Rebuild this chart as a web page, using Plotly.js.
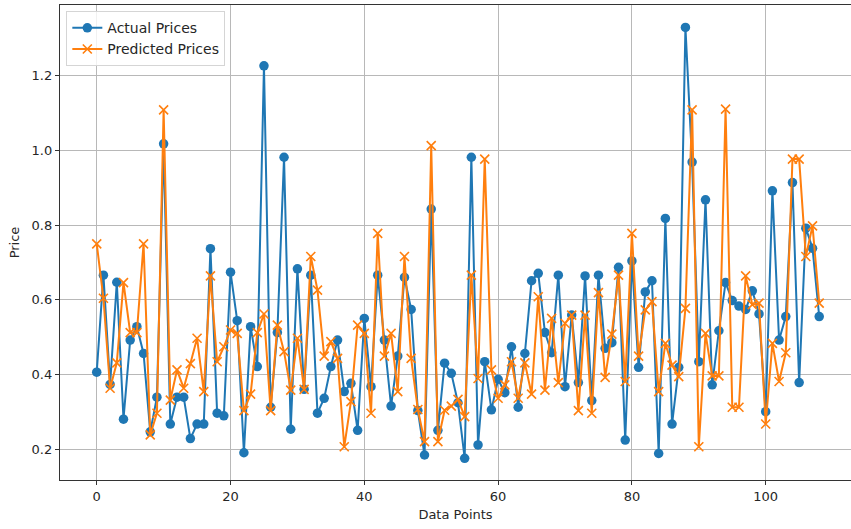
<!DOCTYPE html>
<html>
<head>
<meta charset="utf-8">
<script src="https://cdn.plot.ly/plotly-3.0.1.min.js"></script>
<style>html,body{margin:0;padding:0;background:#fff;}#chart{width:851px;height:529px;}</style>
</head>
<body>
<div id="chart"></div>
<script>
const actualPrices = [
  0.406, 0.666, 0.373, 0.647, 0.280, 0.492, 0.528, 0.456, 0.246, 0.339,
  1.018, 0.267, 0.339, 0.339, 0.228, 0.267, 0.267, 0.737, 0.296, 0.289,
  0.674, 0.544, 0.190, 0.528, 0.421, 1.227, 0.312, 0.512, 0.982, 0.253,
  0.683, 0.360, 0.666, 0.296, 0.336, 0.421, 0.492, 0.354, 0.376, 0.250,
  0.550, 0.367, 0.666, 0.492, 0.315, 0.449, 0.660, 0.574, 0.303, 0.184,
  0.843, 0.250, 0.430, 0.403, 0.324, 0.175, 0.982, 0.211, 0.434, 0.305,
  0.387, 0.351, 0.474, 0.312, 0.456, 0.651, 0.671, 0.512, 0.458, 0.666,
  0.367, 0.559, 0.378, 0.664, 0.330, 0.666, 0.470, 0.485, 0.687, 0.224,
  0.704, 0.419, 0.621, 0.651, 0.188, 0.818, 0.267, 0.419, 1.330, 0.969,
  0.434, 0.868, 0.372, 0.517, 0.646, 0.598, 0.583, 0.574, 0.624, 0.562,
  0.300, 0.892, 0.492, 0.555, 0.914, 0.378, 0.792, 0.738, 0.555
];
const predictedPrices = [
  0.750, 0.604, 0.363, 0.431, 0.646, 0.512, 0.512, 0.750, 0.238, 0.296,
  1.109, 0.331, 0.412, 0.363, 0.429, 0.497, 0.354, 0.664, 0.434, 0.474,
  0.519, 0.510, 0.303, 0.347, 0.512, 0.562, 0.303, 0.532, 0.461, 0.358,
  0.497, 0.360, 0.716, 0.626, 0.449, 0.488, 0.443, 0.206, 0.327, 0.532,
  0.510, 0.296, 0.778, 0.449, 0.510, 0.354, 0.716, 0.443, 0.306, 0.220,
  1.013, 0.220, 0.304, 0.315, 0.333, 0.287, 0.666, 0.389, 0.977, 0.412,
  0.336, 0.372, 0.434, 0.336, 0.431, 0.347, 0.608, 0.358, 0.550, 0.378,
  0.537, 0.559, 0.303, 0.559, 0.296, 0.619, 0.392, 0.508, 0.666, 0.381,
  0.778, 0.449, 0.573, 0.595, 0.354, 0.483, 0.425, 0.394, 0.577, 1.109,
  0.206, 0.510, 0.396, 0.396, 1.111, 0.312, 0.312, 0.664, 0.587, 0.591,
  0.267, 0.483, 0.381, 0.458, 0.977, 0.977, 0.716, 0.798, 0.591
];
const dataPoints = actualPrices.map((_, i) => i);
const xTicks = [0, 20, 40, 60, 80, 100];
const yTicks = [0.2, 0.4, 0.6, 0.8, 1.0, 1.2];
const seriesNames = ['Actual Prices', 'Predicted Prices'];

const font = {family: 'DejaVu Sans, sans-serif', size: 13, color: '#262626'};

const traces = [
  {
    x: dataPoints, y: actualPrices, name: seriesNames[0], type: 'scatter', mode: 'lines+markers',
    line: {color: '#1f77b4', width: 2},
    marker: {symbol: 'circle', size: 9.5, color: '#1f77b4'}
  },
  {
    x: dataPoints, y: predictedPrices, name: seriesNames[1], type: 'scatter', mode: 'lines+markers',
    line: {color: '#ff7f0e', width: 2},
    marker: {symbol: 'x-thin', size: 9, color: '#ff7f0e', line: {color: '#ff7f0e', width: 1.6}}
  }
];

const layout = {
  width: 851, height: 529,
  margin: {l: 60, r: 0, t: 5, b: 49},
  paper_bgcolor: '#fff', plot_bgcolor: '#fff',
  font: font,
  showlegend: true,
  legend: {
    x: 0.008, y: 0.987, xanchor: 'left', yanchor: 'top',
    bgcolor: 'rgba(255,255,255,0.8)', bordercolor: '#d5d5d5', borderwidth: 1,
    font: {family: 'DejaVu Sans, sans-serif', size: 14, color: '#262626'},
    itemwidth: 30,
    tracegroupgap: 0
  },
  xaxis: {
    range: [-5.49, 112.75],
    tickvals: xTicks, ticktext: xTicks.map(String),
    showgrid: true, gridcolor: '#b8b8b8', gridwidth: 1,
    zeroline: false,
    showline: true, linecolor: '#333', linewidth: 1.2, mirror: true,
    ticks: 'outside', ticklen: 4, tickcolor: '#333',
    title: {text: 'Data Points', font: font, standoff: 7}
  },
  yaxis: {
    range: [0.117, 1.390],
    tickvals: yTicks, ticktext: yTicks.map(v => v.toFixed(1)),
    showgrid: true, gridcolor: '#b8b8b8', gridwidth: 1,
    zeroline: false,
    showline: true, linecolor: '#333', linewidth: 1.2, mirror: false,
    ticks: 'outside', ticklen: 4, tickcolor: '#333',
    title: {text: 'Price', font: font, standoff: 9}
  }
};

Plotly.newPlot('chart', traces, layout, {displayModeBar: false, staticPlot: true});
</script>
</body>
</html>
